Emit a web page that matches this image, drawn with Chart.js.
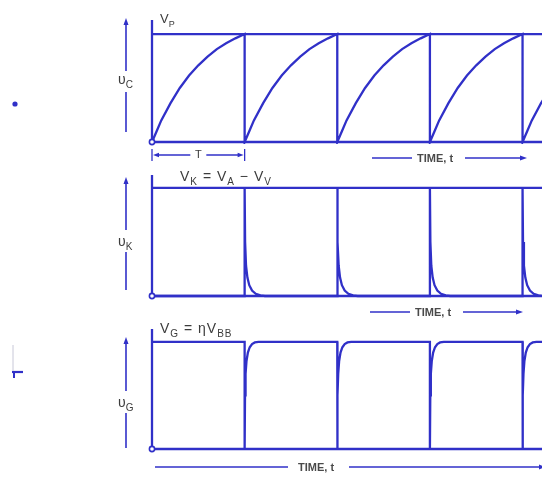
<!DOCTYPE html>
<html><head><meta charset="utf-8">
<script src="https://cdn.jsdelivr.net/npm/chart.js@4"></script>
<style>
html,body{margin:0;padding:0;background:#fff}
#wrap{position:relative;width:542px;height:477px;overflow:hidden;background:#fff}
canvas{position:absolute;left:0}
</style>
</head><body><div id="wrap">
<canvas id="c1" width="542" height="165" style="top:0px"></canvas>
<canvas id="c2" width="542" height="155" style="top:165px"></canvas>
<canvas id="c3" width="542" height="157" style="top:320px"></canvas>
</div>
<script>
// ---- data (time in units of the period T, voltage normalised to peak) ----
const cycleStarts = [0, 1, 2, 3, 4];
const timeSpan = 4.21;
// capacitor charging within one period (v_C)
const chargeT = [0, 0.05, 0.1, 0.2, 0.3, 0.4, 0.5, 0.6, 0.7, 0.8, 0.9, 1.0];
const chargeV = [0, 0.10, 0.20, 0.36, 0.50, 0.615, 0.71, 0.79, 0.86, 0.915, 0.96, 1.0];
// cathode pulse decay after firing (v_K)
const spikeDt = [0, 0.005, 0.015, 0.03, 0.05, 0.08, 0.12, 0.17, 0.22];
const spikeV  = [1, 0.50, 0.28, 0.17, 0.10, 0.05, 0.02, 0.005, 0];
// gate recovery after firing (v_G)
const recoverDt = [0, 0.004, 0.01, 0.02, 0.035, 0.055, 0.08, 0.11, 0.15];
const recoverV  = [0, 0.50, 0.70, 0.82, 0.90, 0.95, 0.98, 0.995, 1];
const levelTop = 1, levelBase = 0;

const BLUE = '#3030c8';
const TXT = '#3c3c3c';
const FONT = '"Liberation Sans", Arial, sans-serif';

// ---- build series ----
const vC = [];
cycleStarts.forEach(k => chargeT.forEach((t, i) => vC.push({x: k + t, y: chargeV[i]})));

const vK = [{x: 0, y: levelBase}];
cycleStarts.slice(1).forEach(k => {
  vK.push({x: k, y: levelBase});
  spikeDt.forEach((d, i) => vK.push({x: k + d, y: spikeV[i]}));
});
if (vK[vK.length - 1].x < timeSpan) vK.push({x: timeSpan, y: levelBase});

const vG = [{x: 0, y: levelTop}];
cycleStarts.slice(1).forEach(k => {
  vG.push({x: k, y: levelTop});
  recoverDt.forEach((d, i) => vG.push({x: k + d, y: recoverV[i]}));
});
if (vG[vG.length - 1].x < timeSpan) vG.push({x: timeSpan, y: levelTop});

function lineDs(data, w) {
  return {data, borderColor: BLUE, borderWidth: w || 2.3, pointRadius: 0, fill: false, tension: 0, clip: 2};
}
function originDs() {
  return {data: [{x: 0, y: 0}], showLine: false, pointRadius: 2.6, pointBorderWidth: 1.6,
          pointBorderColor: BLUE, pointBackgroundColor: '#fff', clip: false};
}

// ---- drawing helpers ----
function subText(ctx, parts, x, y, size, spacing) {
  let cx = x;
  ctx.letterSpacing = (spacing || 0) + 'px';
  parts.forEach(([t, sub]) => {
    ctx.font = (sub ? Math.round(size * 0.7) : size) + 'px ' + FONT;
    ctx.fillText(t, cx, sub ? y + size * 0.3 : y);
    cx += ctx.measureText(t).width;
  });
  ctx.letterSpacing = '0px';
  return cx;
}
function head(ctx, x, y, dir, len, half) {
  len = len || 6; half = half || 2.5;
  ctx.beginPath();
  if (dir === 'up') { ctx.moveTo(x, y); ctx.lineTo(x - half, y + len); ctx.lineTo(x + half, y + len); }
  if (dir === 'right') { ctx.moveTo(x, y); ctx.lineTo(x - len, y - half); ctx.lineTo(x - len, y + half); }
  if (dir === 'left') { ctx.moveTo(x, y); ctx.lineTo(x + len, y - half); ctx.lineTo(x + len, y + half); }
  ctx.closePath(); ctx.fill();
}
function hline(ctx, x1, x2, y, w) { ctx.lineWidth = w || 1.4; ctx.beginPath(); ctx.moveTo(x1, y); ctx.lineTo(x2, y); ctx.stroke(); }
function vline(ctx, x, y1, y2, w) { ctx.lineWidth = w || 1.4; ctx.beginPath(); ctx.moveTo(x, y1); ctx.lineTo(x, y2); ctx.stroke(); }

function sideArrow(ctx, x, top, gapTop, gapBot, bottom) {
  ctx.strokeStyle = BLUE; ctx.fillStyle = BLUE;
  vline(ctx, x, top + 4, gapTop, 1.6);
  vline(ctx, x, gapBot, bottom, 1.6);
  head(ctx, x, top, 'up', 7, 2.5);
}
function timeArrow(ctx, x1, x2, tx, x3, x4, y) {
  ctx.strokeStyle = BLUE; ctx.fillStyle = BLUE;
  hline(ctx, x1, x2, y, 1.5);
  hline(ctx, x3, x4 - 4, y, 1.5);
  head(ctx, x4, y, 'right', 7, 2.4);
  ctx.fillStyle = '#4a4a4a';
  ctx.font = 'bold 11px ' + FONT;
  ctx.textBaseline = 'middle';
  ctx.fillText('TIME, t', tx, y + 0.5);
  ctx.textBaseline = 'alphabetic';
}

function makeChart(id, datasets, yTop, padTop, padBottom, deco) {
  return new Chart(document.getElementById(id), {
    type: 'line',
    data: {datasets},
    options: {
      responsive: false, animation: false, devicePixelRatio: 1,
      layout: {autoPadding: false, padding: {left: 152, right: 0, top: padTop, bottom: padBottom}},
      plugins: {legend: {display: false}, tooltip: {enabled: false}},
      scales: {
        x: {type: 'linear', min: 0, max: timeSpan, display: false},
        y: {type: 'linear', min: 0, max: yTop, display: false}
      }
    },
    plugins: [{id: 'deco', afterDraw(chart) {
      const ctx = chart.ctx; ctx.save();
      deco(ctx, chart.scales.x, chart.scales.y);
      ctx.restore();
    }}]
  });
}

// ---- panel 1 : v_C ----
const yTop1 = 1.13;
makeChart('c1', [
  originDs(),
  lineDs(vC),
  lineDs([{x: 0, y: levelTop}, {x: timeSpan, y: levelTop}]),
  lineDs([{x: 0, y: levelBase}, {x: timeSpan, y: levelBase}]),
  lineDs([{x: 0, y: 0}, {x: 0, y: yTop1}])
], yTop1, 20, 23, (ctx, xs, ys) => {
  ctx.fillStyle = TXT;
  subText(ctx, [['V', 0], ['P', 1]], 160, 23, 13);
  sideArrow(ctx, 126, 18, 71, 92, 132);
  ctx.fillStyle = TXT;
  subText(ctx, [['υ', 0], ['C', 1]], 118, 84, 14);
  // period dimension
  const x0 = xs.getPixelForValue(0), x1 = xs.getPixelForValue(1), yb = ys.getPixelForValue(0) + 13;
  ctx.strokeStyle = BLUE; ctx.fillStyle = BLUE;
  vline(ctx, x0, yb - 6, yb + 6, 1.3); vline(ctx, x1, yb - 6, yb + 6, 1.3);
  hline(ctx, x0 + 5, (x0 + x1) / 2 - 8, yb, 1.3);
  hline(ctx, (x0 + x1) / 2 + 8, x1 - 5, yb, 1.3);
  head(ctx, x0 + 1, yb, 'left', 6, 2.2); head(ctx, x1 - 1, yb, 'right', 6, 2.2);
  ctx.fillStyle = TXT; ctx.font = '11px ' + FONT;
  ctx.textAlign = 'center'; ctx.textBaseline = 'middle';
  ctx.fillText('T', (x0 + x1) / 2, yb);
  ctx.textAlign = 'left'; ctx.textBaseline = 'alphabetic';
  timeArrow(ctx, 372, 412, 417, 465, 527, 158);
  // scan speck at left
  ctx.fillStyle = BLUE; ctx.beginPath(); ctx.arc(15, 104, 2.6, 0, Math.PI * 2); ctx.fill();
});

// ---- panel 2 : v_K ----
const yTop2 = 1.12;
makeChart('c2', [
  originDs(),
  lineDs(vK),
  lineDs([{x: 0, y: levelTop}, {x: timeSpan, y: levelTop}]),
  lineDs([{x: 0, y: levelBase}, {x: timeSpan, y: levelBase}]),
  lineDs([{x: 0, y: 0}, {x: 0, y: yTop2}])
], yTop2, 10, 24, (ctx, xs, ys) => {
  ctx.fillStyle = TXT;
  subText(ctx, [['V', 0], ['K', 1], [' = V', 0], ['A', 1], [' − V', 0], ['V', 1]], 180, 16, 14, 1);
  sideArrow(ctx, 126, 12, 65, 87, 125);
  ctx.fillStyle = TXT;
  subText(ctx, [['υ', 0], ['K', 1]], 118, 81, 14);
  timeArrow(ctx, 370, 410, 415, 463, 523, 147);
});

// ---- panel 3 : v_G ----
const yTop3 = 1.12;
makeChart('c3', [
  originDs(),
  lineDs(vG),
  lineDs([{x: 0, y: levelBase}, {x: timeSpan, y: levelBase}]),
  lineDs([{x: 0, y: 0}, {x: 0, y: yTop3}])
], yTop3, 9, 28, (ctx, xs, ys) => {
  ctx.fillStyle = TXT;
  subText(ctx, [['V', 0], ['G', 1], [' = ηV', 0], ['BB', 1]], 160, 13, 14, 1);
  sideArrow(ctx, 126, 17, 71, 93, 128);
  ctx.fillStyle = TXT;
  subText(ctx, [['υ', 0], ['G', 1]], 118, 87, 14);
  timeArrow(ctx, 155, 288, 298, 349, 546, 147);
  // scan marks at left
  ctx.strokeStyle = BLUE; ctx.fillStyle = BLUE;
  hline(ctx, 12, 23, 52, 2.2);
  vline(ctx, 14, 52, 58, 2);
  ctx.strokeStyle = '#c8c8d8'; vline(ctx, 13, 25, 51, 1);
});
</script>
</body></html>
